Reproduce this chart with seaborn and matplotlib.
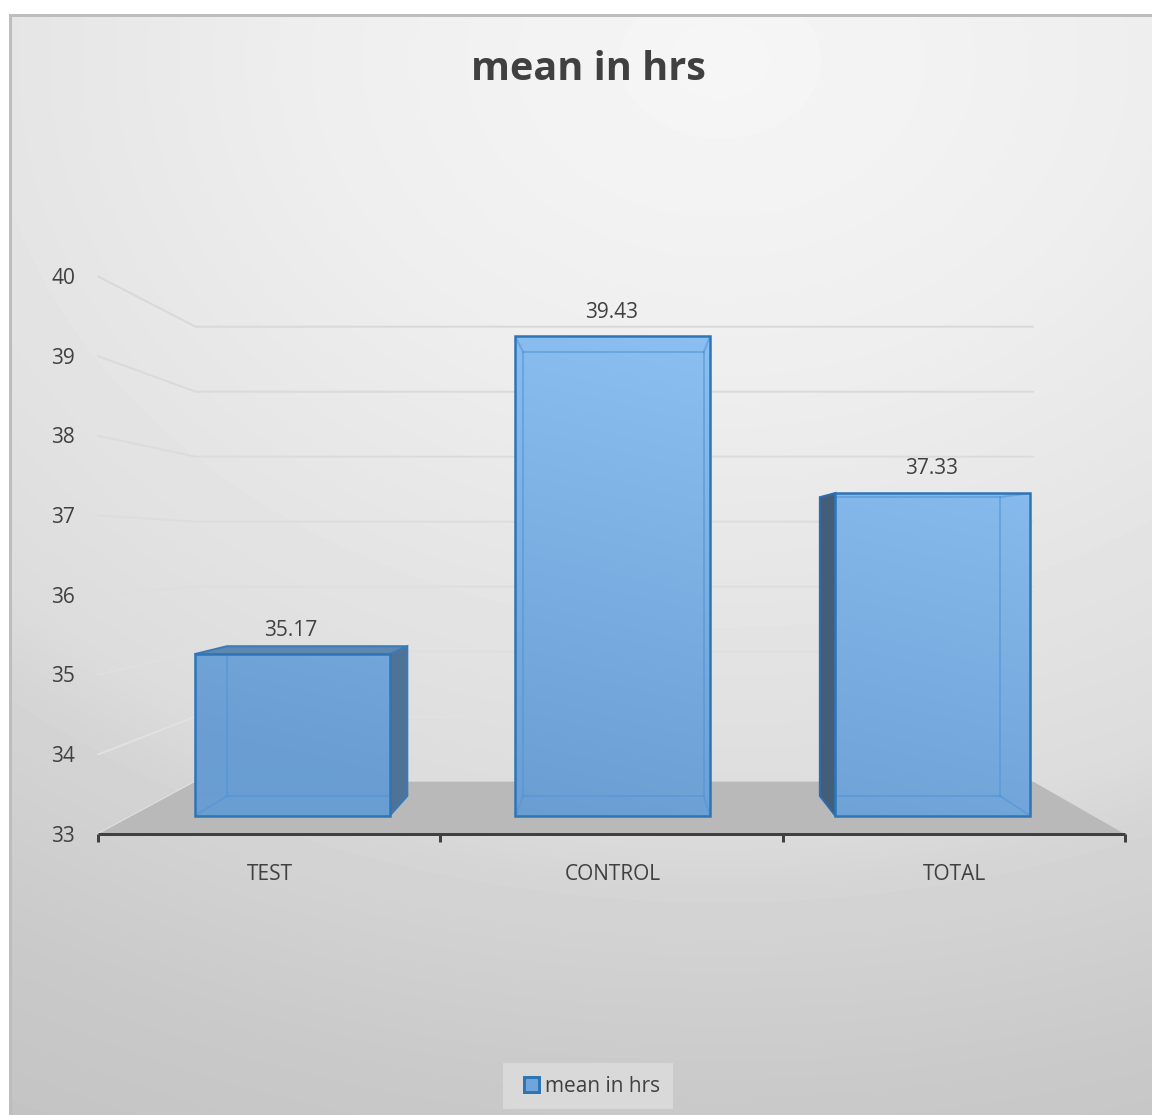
import numpy as np
import seaborn as sns
import matplotlib.pyplot as plt
from matplotlib.colors import LinearSegmentedColormap
from matplotlib.patches import Patch, Polygon, Rectangle

categories = ['TEST', 'CONTROL', 'TOTAL']
means = np.array([35.17, 39.43, 37.33])
value_ticks = [33, 34, 35, 36, 37, 38, 39, 40]
series_name = 'mean in hrs'

W, H = 1152, 1115
DPI = 100
BASE = 33
# px per category / per unit on the front plane of the bars
STEP_PX = 320.5
UNIT_PX = 74.6
BASE_PY = 816
MID_PX = 612.5
# fake 3d: everything is scaled towards one vanishing point
VP = (1.045, 36.58)
D_AXIS, D_BACK, D_WALL = 1.068, 0.925, 0.871

sns.set_theme(style='white')
plt.rcParams['font.family'] = ['Open Sans', 'DejaVu Sans']
TXT = '#404040'


def depth(x, y, d):
    return VP[0] + d * (x - VP[0]), VP[1] + d * (y - VP[1])


def px(n):
    return n * 72 / DPI


fig = plt.figure(figsize=(W / DPI, H / DPI), dpi=DPI, facecolor='white')
ax = fig.add_axes([0, 0, 1, 1])
xlim = ((0 - MID_PX) / STEP_PX + 1, (W - MID_PX) / STEP_PX + 1)
ylim = (BASE + (BASE_PY - H) / UNIT_PX, BASE + BASE_PY / UNIT_PX)

# bars start at the axis minimum, not at 0
sns.barplot(x=categories, y=means - BASE, bottom=BASE, width=195 / STEP_PX, color='#6fa5da',
            saturation=1, linewidth=0, ax=ax, zorder=3)
bars = list(ax.patches)

# chart area background
gx, gy = np.meshgrid(np.arange(W), np.arange(H))
dist = np.hypot((gx - 720) * 0.85, (gy - 60) * 1.1)
shade = np.interp(dist, [0, 350, 600, 840, 910, 1144, 1300], [246, 238, 229, 220, 213, 201, 196])
bg = ax.imshow(shade, cmap='gray', vmin=0, vmax=255, extent=(*xlim, *ylim), aspect='auto', zorder=0)
frame = Rectangle((10 / W, -0.01), 1.01, 1 - 15 / H + 0.01, transform=ax.transAxes, fc='none', ec='#bdbdbd', lw=px(3), zorder=0.5)
ax.add_patch(frame)
bg.set_clip_path(frame)

# floor and walls
left, right = -0.5, len(categories) - 0.5
floor = [depth(left, BASE, D_AXIS), depth(right, BASE, D_AXIS), depth(right, BASE, D_WALL), depth(left, BASE, D_WALL)]
ax.add_patch(Polygon(floor, fc='#b9b9b9', ec='none', zorder=1.5))
for v in value_ticks:
    a = depth(left, v, D_AXIS)
    b = depth(left, v, D_WALL)
    c = depth(right, v, D_WALL)
    # grid reads darker than the wall up top, lighter further down
    grey = str((226 - (v - BASE) * 1.3) / 255)
    ax.plot([a[0], b[0], c[0]], [a[1], b[1], c[1]], color=grey, lw=px(2), zorder=1)
    ax.annotate(str(v), xy=a, xytext=(px(-23), px(-2)), textcoords='offset points', ha='right', va='center',
                fontsize=15, color=TXT)

# category axis
a0 = depth(left, BASE, D_AXIS)
a1 = depth(right, BASE, D_AXIS)
ax.plot([a0[0], a1[0]], [a0[1], a1[1]], color=TXT, lw=px(3), zorder=2, solid_capstyle='butt')
for i in range(len(categories) + 1):
    t = depth(left + i, BASE, D_AXIS)
    ax.plot([t[0], t[0]], [t[1], t[1] - 8 / UNIT_PX], color=TXT, lw=px(3), zorder=2, solid_capstyle='butt')
for i, cat in enumerate(categories):
    t = depth(i, BASE, D_AXIS)
    ax.annotate(cat, xy=t, xytext=(px(1), px(-40)), textcoords='offset points', ha='center', va='center',
                fontsize=15, color=TXT)

# bar fill goes lighter to the upper right
t = np.clip((BASE_PY - gy) / 480 * 0.8 + (gx - 500) / 500 * 0.2, 0, 1)
bar_cmap = LinearSegmentedColormap.from_list('bar', ['#6a9ed2', '#90c4f6'])

for bar, val, cat in zip(bars, means, categories):
    x0, x1 = bar.get_x(), bar.get_x() + bar.get_width()
    y0, y1 = bar.get_y(), bar.get_y() + bar.get_height()
    fbl, fbr, ftr, ftl = (x0, y0), (x1, y0), (x1, y1), (x0, y1)
    bbl, bbr, btr, btl = [depth(*p, D_BACK) for p in (fbl, fbr, ftr, ftl)]

    # outer faces only show where the back sticks out past the front
    if btr[0] > x1:
        ax.add_patch(Polygon([fbr, bbr, btr, ftr], fc='#4f7397', ec='#3b7ab8', lw=px(2), zorder=2.5))
    if btl[0] < x0:
        ax.add_patch(Polygon([fbl, bbl, btl, ftl], fc='#445e7a', ec='#2e6dad', lw=px(2), zorder=2.5))
    if btl[1] > y1:
        ax.add_patch(Polygon([ftl, btl, btr, ftr], fc='#5f88b0', ec='#3b7ab8', lw=px(2), zorder=2.5))

    im = ax.imshow(t, cmap=bar_cmap, vmin=0, vmax=1, extent=(*xlim, *ylim), aspect='auto', zorder=3.1)
    im.set_clip_path(bar)

    # inner box lines, only seen through the front of the bar
    for p, q in [(bbl, bbr), (bbr, btr), (btr, btl), (btl, bbl), (fbl, bbl), (fbr, bbr), (ftr, btr), (ftl, btl)]:
        line, = ax.plot([p[0], q[0]], [p[1], q[1]], color='#4f94d8', alpha=0.55, lw=px(2), zorder=3.2)
        line.set_clip_path(bar)
    ax.add_patch(Rectangle((x0, y0), x1 - x0, y1 - y0, fc='none', ec='#2e75b6', lw=px(2.5), zorder=3.3))

    ax.annotate(f'{val:.2f}', xy=((x0 + x1) / 2, val), xytext=(px(-1), px(24)), textcoords='offset points',
                ha='center', va='center', fontsize=15, color=TXT)

fig.text(588 / W, 1 - 69 / H, series_name, ha='center', va='center', fontsize=28.5, fontweight='bold', color=TXT)

ax.add_patch(Rectangle((503 / W, 1 - 1109 / H), 170 / W, 46 / H, transform=ax.transAxes, fc='#d9d9d9', ec='none', zorder=4))
leg = ax.legend(handles=[Patch(fc='#6fa5da', ec='#2e75b6', lw=px(3), label=series_name)],
                loc='center', bbox_to_anchor=(592 / W, 1 - 1086 / H), bbox_transform=fig.transFigure,
                fontsize=15, frameon=False, handlelength=0.75, handleheight=0.75, handletextpad=0.3,
                borderpad=0, borderaxespad=0)
for txt in leg.get_texts():
    txt.set_color(TXT)

ax.set_xlim(*xlim)
ax.set_ylim(*ylim)
ax.set_axis_off()

fig.savefig('out.png', dpi=DPI)
